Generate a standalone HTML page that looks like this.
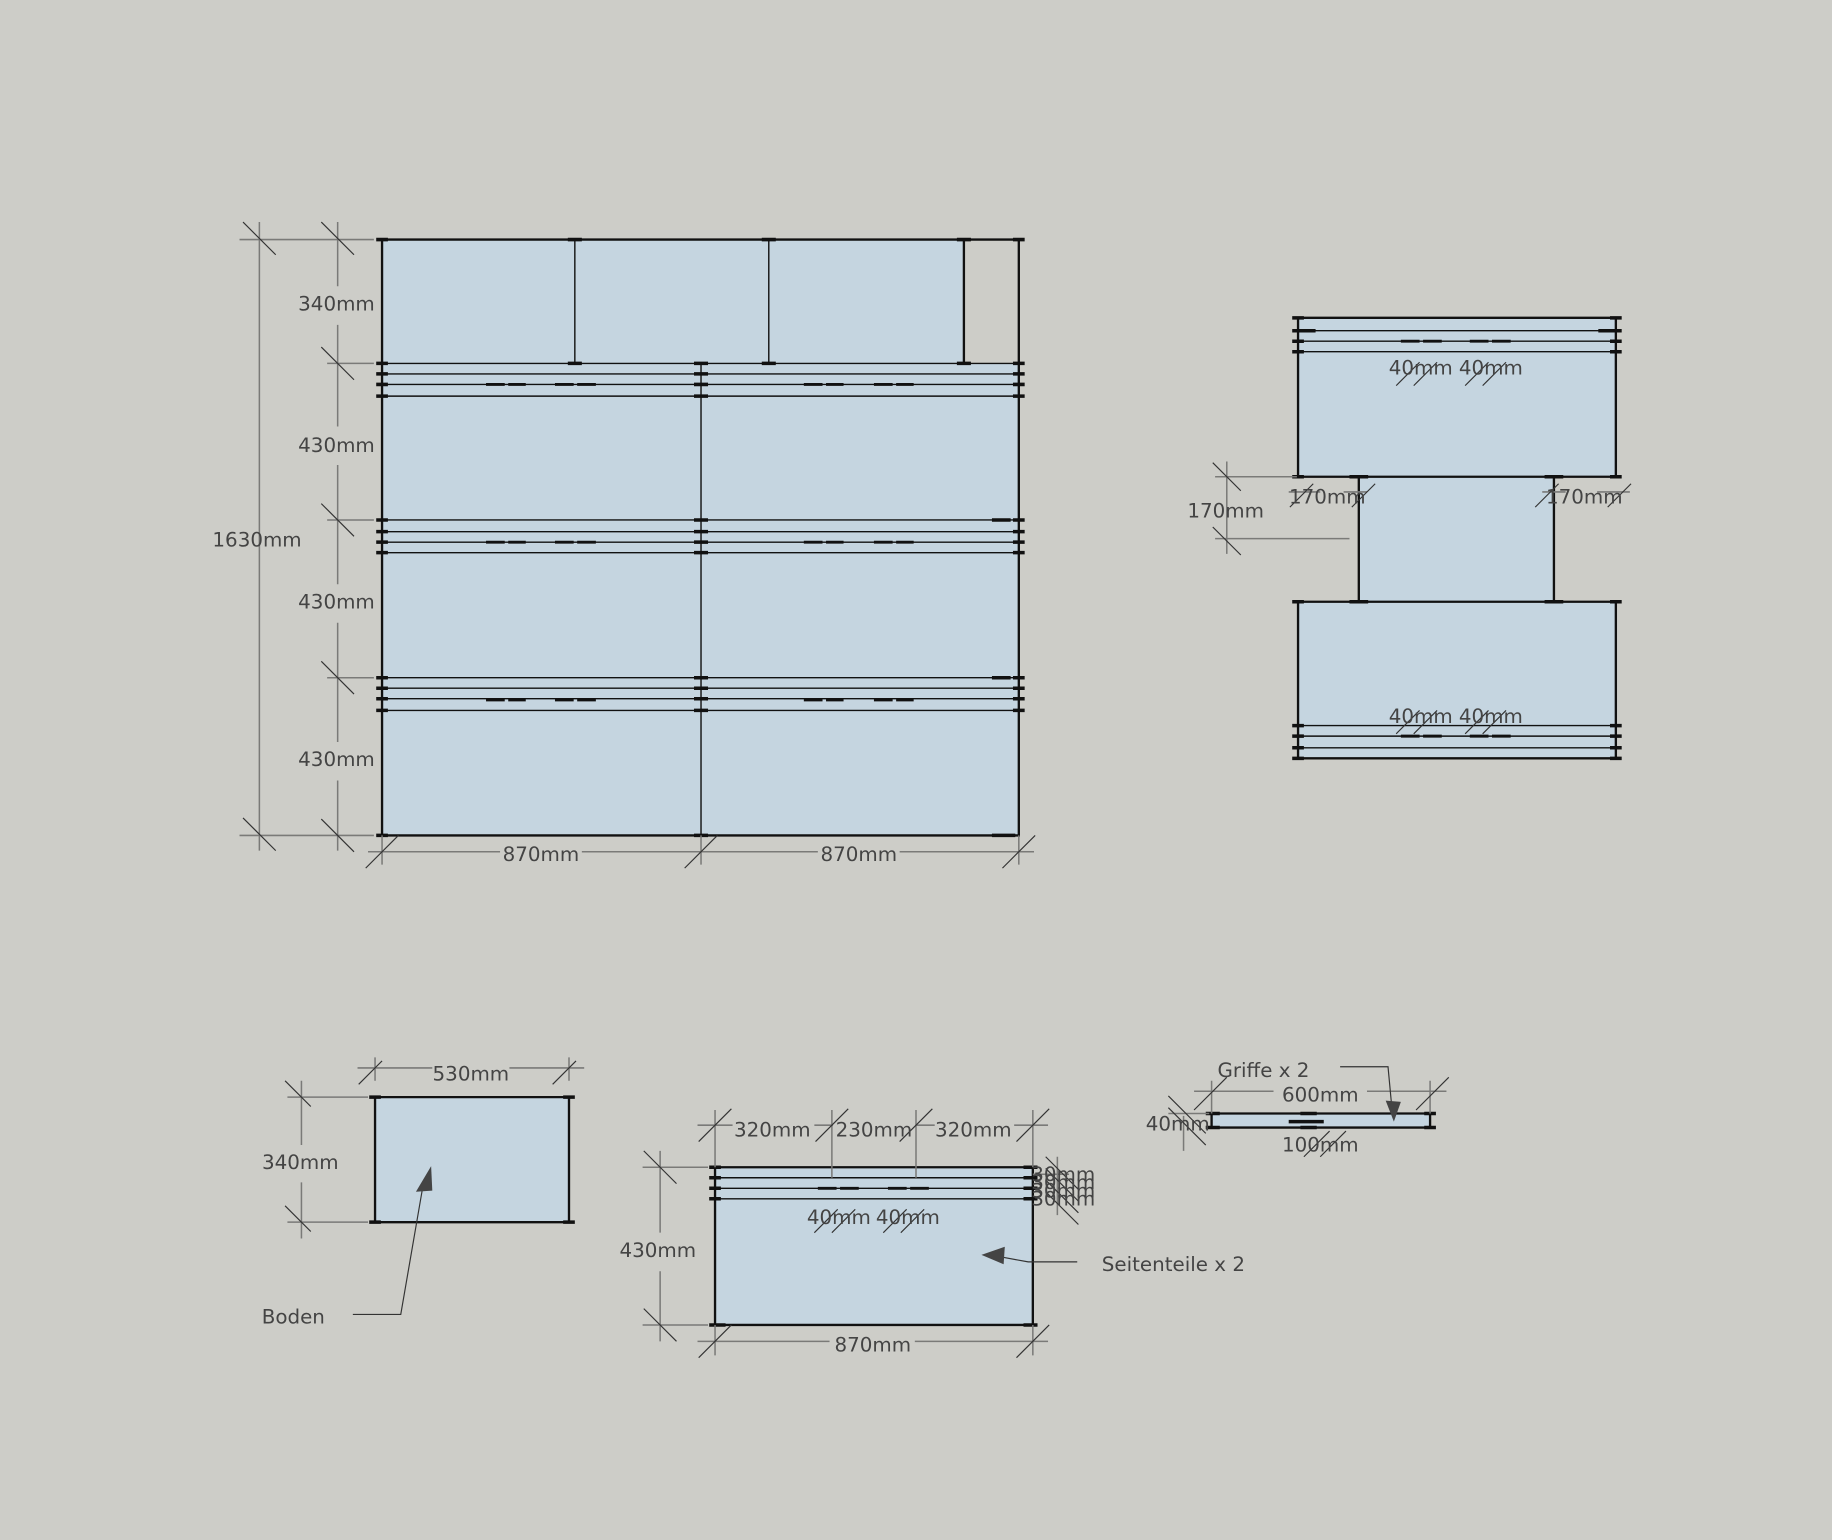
<!DOCTYPE html>
<html><head><meta charset="utf-8"><style>
html,body{margin:0;padding:0;background:#cdcdc8;}
svg{display:block}
text{font-family:"DejaVu Sans","Liberation Sans",sans-serif;font-size:17px;fill:#444;text-anchor:middle;dominant-baseline:middle}
.t{text-anchor:start}
.dim{stroke:#7a7a78;stroke-width:1.3;fill:none}
.tk{stroke:#333;stroke-width:1;fill:none}
.e{stroke:#111;stroke-width:2;fill:none}
.th{stroke:#111;stroke-width:1.2;fill:none}
.ds{stroke:#111;stroke-width:2.5;fill:none;stroke-dasharray:16 3}
.f{fill:#c5d5e0}
</style></head><body>
<svg width="1832" height="1540" viewBox="0 0 1568 1318" xmlns="http://www.w3.org/2000/svg">
<rect width="1568" height="1318" fill="#cdcdc8"/>

<!-- MAIN -->
<rect class="f" x="327" y="205" width="498" height="106"/>
<rect class="f" x="327" y="311" width="545" height="404"/>
<path class="e" d="M327 205H872V715H327Z"/>
<path class="e" d="M825 205V311"/>
<path class="th" d="M492 205V311M658 205V311M600 311V715"/>
<path class="th" d="M327 311H872M327 320H872M327 329H872M327 339H872M327 445H872M327 455H872M327 464H872M327 473H872M327 580H872M327 589H872M327 598H872M327 608H872"/>
<path class="ds" d="M416 329H450M475 329H510M688 329H722M748 329H782M416 464H450M475 464H510M688 464H722M748 464H782M416 599H450M475 599H510M688 599H722M748 599H782"/>
<!-- node markers -->
<g stroke="#111" stroke-width="3">
<path d="M322 205h10M322 311h10M322 320h10M322 329h10M322 339h10M322 445h10M322 455h10M322 464h10M322 473h10M322 580h10M322 589h10M322 598h10M322 608h10M322 715h10"/>
<path d="M867 205h10M867 311h10M867 320h10M867 329h10M867 339h10M867 445h10M867 455h10M867 464h10M867 473h10M867 580h10M867 589h10M867 598h10M867 608h10M849 715h20"/>
<path d="M594 311h12M594 320h12M594 329h12M594 339h12M594 445h12M594 455h12M594 464h12M594 473h12M594 580h12M594 589h12M594 598h12M594 608h12M594 715h12"/>
<path d="M486 205h12M652 205h12M819 205h12M486 311h12M652 311h12M819 311h12M849 445h16M849 580h16"/>
</g>
<!-- left dims -->
<path class="dim" d="M222 190V728M205 205H320M205 715H320M289 190V245M289 278V365M289 398V500M289 533V635M289 668V728M280 311H320M280 445H320M280 580H320"/>
<path class="tk" d="M208 190l28 28M208 700l28 28M275 190l28 28M275 297l28 28M275 431l28 28M275 566l28 28M275 701l28 28"/>
<text x="220" y="463">1630mm</text>
<text x="288" y="261">340mm</text>
<text x="288" y="382">430mm</text>
<text x="288" y="516">430mm</text>
<text x="288" y="651">430mm</text>
<!-- bottom dims -->
<path class="dim" d="M315 729H428M498 729H700M770 729H885M327 715V740M600 715V740M872 715V740"/>
<path class="tk" d="M313 743l28 -28M586 743l28 -28M858 743l28 -28"/>
<text x="463" y="732">870mm</text>
<text x="735" y="732">870mm</text>

<!-- RIGHT DRAWING -->
<rect class="f" x="1111" y="272" width="272" height="136"/>
<rect class="f" x="1163" y="408" width="167" height="107"/>
<rect class="f" x="1111" y="515" width="272" height="134"/>
<path class="e" d="M1111 272H1383V408H1111ZM1111 515H1383V649H1111ZM1163 408V515M1330 408V515"/>
<path class="th" d="M1111 283H1383M1111 292H1383M1111 301H1383M1111 621H1383M1111 630H1383M1111 640H1383"/>
<path class="ds" d="M1199 292H1235M1258 292H1295M1199 630H1235M1258 630H1295"/>
<g stroke="#111" stroke-width="3"><path d="M1106 272h10M1106 283h10M1106 292h10M1106 301h10M1378 272h10M1378 283h10M1378 292h10M1378 301h10M1106 408h10M1378 408h10M1155 408h16M1322 408h16M1106 515h10M1378 515h10M1155 515h16M1322 515h16M1106 621h10M1106 630h10M1106 640h10M1106 649h10M1378 621h10M1378 630h10M1378 640h10M1378 649h10M1116 283h10M1368 283h10"/></g>
<path class="dim" d="M1040 408H1110M1040 461H1155M1050 395V474M1103 421H1130M1150 421H1170M1320 421H1340M1367 421H1395"/>
<path class="tk" d="M1038 396l24 24M1038 451l24 24M1104 434l20 -20M1157 434l20 -20M1314 434l20 -20M1376 434l20 -20"/>
<text x="1049" y="438">170mm</text>
<text x="1136" y="426">170mm</text>
<text x="1356" y="426">170mm</text>
<path class="tk" d="M1195 330l20 -20M1210 330l20 -20M1254 330l20 -20M1269 330l20 -20M1195 628l20 -20M1210 628l20 -20M1254 628l20 -20M1269 628l20 -20"/>
<text x="1216" y="316">40mm</text><text x="1276" y="316">40mm</text>
<text x="1216" y="614">40mm</text><text x="1276" y="614">40mm</text>

<!-- BODEN -->
<rect class="f" x="321" y="939" width="166" height="107"/>
<path class="e" d="M321 939H487V1046H321Z"/>
<g stroke="#111" stroke-width="3"><path d="M316 939h10M482 939h10M316 1046h10M482 1046h10"/></g>
<path class="dim" d="M306 914H370M436 914H500M321 905V925M487 905V925M246 939H315M246 1046H315M258 925V980M258 1012V1060"/>
<path class="tk" d="M307 928l20 -20M473 928l20 -20M244 925l22 22M244 1032l22 22"/>
<text x="403" y="920">530mm</text>
<text x="257" y="996">340mm</text>
<path class="tk" d="M302 1125H343L362 1015" stroke="#555"/>
<path d="M369 998L356 1020L370 1019Z" fill="#444"/>
<text class="t" x="224" y="1128">Boden</text>

<!-- SEITENTEILE -->
<rect class="f" x="612" y="999" width="272" height="135"/>
<path class="e" d="M612 999H884V1134H612Z"/>
<path class="th" d="M612 1008H884M612 1017H884M612 1026H884"/>
<path class="ds" d="M700 1017H736M760 1017H795"/>
<g stroke="#111" stroke-width="3"><path d="M607 999h10M607 1008h10M607 1017h10M607 1026h10M876 999h12M876 1008h12M876 1017h12M876 1026h12M607 1134h14M876 1134h12"/></g>
<path class="dim" d="M597 963H627M697 963H713M784 963H800M868 963H897M612 950V999M712 950V1008M784 950V1008M884 950V999M550 999H606M550 1134H606M565 985V1055M565 1088V1148M597 1148H710M783 1148H897M612 1134V1160M884 1134V1160M905 990V1040M884 1005H915"/>
<path class="tk" d="M598 977l28 -28M698 977l28 -28M770 977l28 -28M870 977l28 -28M551 985l28 28M551 1120l28 28M598 1162l28 -28M870 1162l28 -28M895 990l28 28M895 1000l28 28M895 1010l28 28M895 1020l28 28"/>
<text x="661" y="968">320mm</text>
<text x="748" y="968">230mm</text>
<text x="833" y="968">320mm</text>
<text x="563" y="1071">430mm</text>
<text x="747" y="1152">870mm</text>
<text x="910" y="1006">30mm</text><text x="910" y="1013">30mm</text><text x="910" y="1020">30mm</text><text x="910" y="1027">30mm</text>
<path class="tk" d="M697 1055l20 -20M712 1055l20 -20M756 1055l20 -20M771 1055l20 -20"/>
<text x="718" y="1043">40mm</text><text x="777" y="1043">40mm</text>
<path class="tk" d="M922 1080H880L858 1076" stroke="#555"/>
<path d="M840 1074L860 1067L859 1082Z" fill="#444"/>
<text class="t" x="943" y="1083">Seitenteile x 2</text>

<!-- GRIFFE -->
<rect class="f" x="1037" y="953" width="187" height="12"/>
<path class="e" d="M1037 953H1224V965H1037Z"/>
<g stroke="#111" stroke-width="3"><path d="M1032 953h12M1219 953h10M1032 965h12M1219 965h10M1113 953h14M1113 965h14M1103 960h30"/></g>
<path class="dim" d="M1022 934H1090M1170 934H1238M1037 925V953M1224 925V953M1013 955V985M1000 953H1035"/>
<path class="tk" d="M1022 950l28 -28M1212 950l28 -28M1000 938l32 32M1000 948l32 32M1116 990l22 -22M1130 990l22 -22"/>
<text x="1130" y="938">600mm</text>
<text x="1008" y="963">40mm</text>
<text x="1130" y="981">100mm</text>
<text class="t" x="1042" y="917">Griffe x 2</text>
<path class="tk" d="M1147 913H1188L1191 945" stroke="#555"/>
<path d="M1193 960L1186 942L1199 943Z" fill="#444"/>
</svg>
</body></html>
